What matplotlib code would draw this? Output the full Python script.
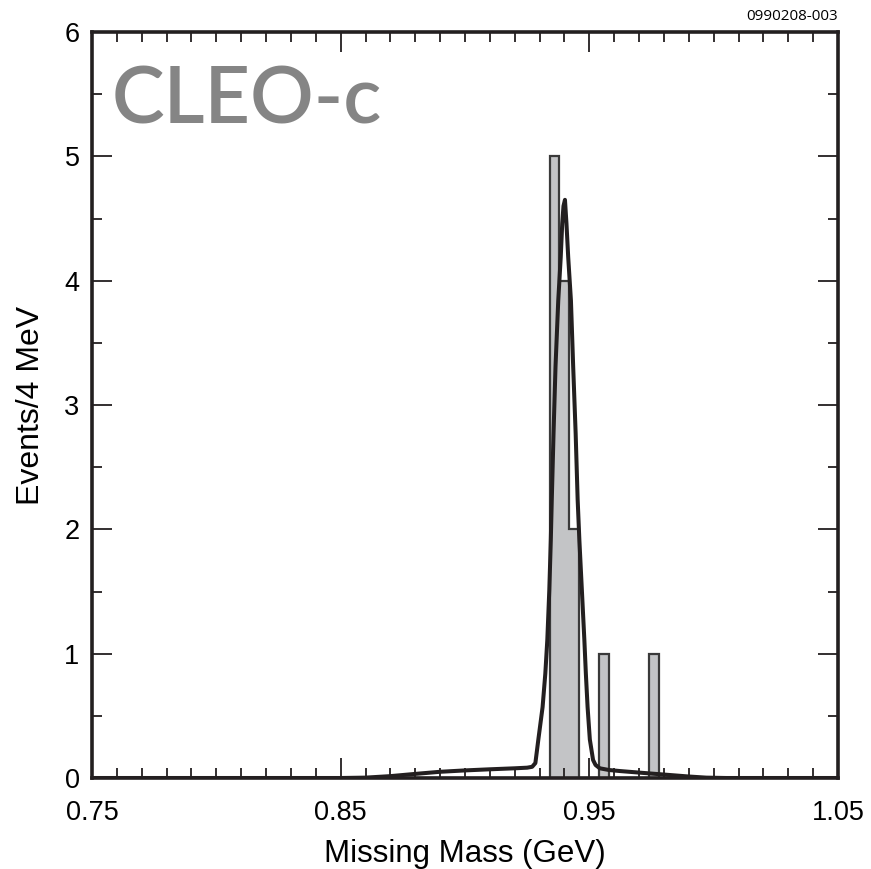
import numpy as np
import matplotlib
matplotlib.use("Agg")
import matplotlib.pyplot as plt
from matplotlib.ticker import MultipleLocator

# Histogram: 4 MeV bins starting at 0.75 GeV
bin_edges_lo = 0.75
bin_width = 0.004
n_bins = 75
filled_bins = [46, 47, 48, 51, 56]       # bin indices with entries
filled_counts = [5, 4, 2, 1, 1]           # events in those bins

# Fit curve (signal peak on top of a smooth background)
fit_x = [0.750, 0.850, 0.860, 0.870, 0.880, 0.890, 0.900, 0.910, 0.920,
         0.925, 0.927, 0.9283, 0.9295, 0.9312, 0.9323, 0.9331, 0.9339,
         0.9345, 0.9349, 0.9356, 0.9364, 0.9375, 0.9385, 0.9391, 0.9396,
         0.9402, 0.9408, 0.9415, 0.9426, 0.9435, 0.9445, 0.9453, 0.9460,
         0.9470, 0.9480, 0.9486, 0.9493, 0.9502, 0.9515, 0.9525, 0.9542,
         0.9580, 0.9623, 0.9703, 0.9824, 0.9900, 0.9970, 1.0050, 1.0500]
fit_y = [0.000, 0.000, 0.003, 0.015, 0.033, 0.050, 0.061, 0.070, 0.078,
         0.083, 0.090, 0.120, 0.310, 0.570, 0.840, 1.110, 1.510,
         1.910, 2.240, 2.770, 3.310, 3.840, 4.190, 4.460, 4.600,
         4.650, 4.460, 4.190, 3.840, 3.310, 2.770, 2.240, 1.910,
         1.510, 1.110, 0.840, 0.570, 0.310, 0.145, 0.105, 0.078,
         0.064, 0.056, 0.043, 0.024, 0.012, 0.003, 0.000, 0.000]

x_major = [0.75, 0.85, 0.95, 1.05]
x_major_labels = ["0.75", "0.85", "0.95", "1.05"]
y_major = [0, 1, 2, 3, 4, 5, 6]

counts = np.zeros(n_bins)
for b, c in zip(filled_bins, filled_counts):
    counts[b] = c
edges = bin_edges_lo + bin_width * np.arange(n_bins + 1)

plt.rcParams['font.family'] = ['Liberation Sans', 'DejaVu Sans']

fig = plt.figure(figsize=(8.71, 8.69), dpi=100)
ax = fig.add_axes([92/871, 1-778/869, (838-92)/871, (778-32)/869])

ink = '#231f20'
ax.stairs(counts, edges, fill=True, color='#c3c4c6', zorder=1)
ax.stairs(counts, edges, fill=False, color='#3a3a3a', linewidth=1.6,
          baseline=0, zorder=2)
ax.plot(fit_x, fit_y, color=ink, linewidth=2.9, solid_joinstyle='round',
        solid_capstyle='round', zorder=3)

ax.set_xlim(0.75, 1.05)
ax.set_ylim(0, 6)
ax.set_xticks(x_major)
ax.set_xticklabels(x_major_labels)
ax.set_yticks(y_major)
ax.xaxis.set_minor_locator(MultipleLocator(0.01))
ax.yaxis.set_minor_locator(MultipleLocator(0.5))
ax.tick_params(which='both', direction='in', top=True, right=True,
               color=ink, width=1.3)
ax.tick_params(which='major', length=14.5)
ax.tick_params(which='minor', length=7)
ax.tick_params(axis='x', which='major', pad=16, labelsize=19.5)
ax.tick_params(axis='y', which='major', pad=9, labelsize=19.5)
for s in ax.spines.values():
    s.set_linewidth(2.6)
    s.set_color(ink)

ax.set_xlabel('Missing Mass (GeV)', fontsize=22.5, labelpad=9)
ax.set_ylabel('Events/4 MeV', fontsize=23, labelpad=13)

ax.text(0.026, 0.955, 'CLEO-c', transform=ax.transAxes, fontsize=57,
        fontweight='semibold', color='#858585',
        family=['Lato', 'DejaVu Sans'], va='top', ha='left')
fig.text(838/871, 1-17/869, '0990208-003', fontsize=11, ha='right',
         va='center', family=['Open Sans', 'DejaVu Sans'])

fig.savefig('out.png', dpi=100)
